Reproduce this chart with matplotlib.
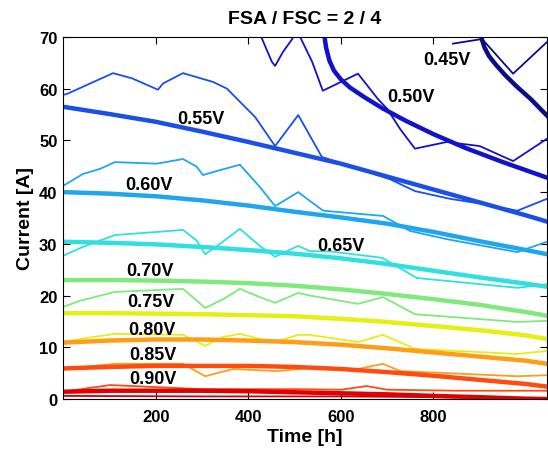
import matplotlib
matplotlib.use("Agg")
import matplotlib.pyplot as plt

plt.rcParams['font.family'] = ['Liberation Sans', 'DejaVu Sans']
plt.rcParams['font.weight'] = 'bold'

# model curves (thick)
t_model = [0, 100, 200, 300, 400, 500, 600, 700, 800, 900, 1000, 1045]
m055 = [56.5, 55.1, 53.6, 51.7, 49.7, 47.6, 45.5, 43.0, 40.5, 38.0, 35.5, 34.3]
m060 = [40.0, 39.7, 39.2, 38.4, 37.4, 36.2, 35.1, 33.9, 32.3, 30.5, 28.8, 28.0]
m065 = [30.4, 30.2, 29.9, 29.4, 28.8, 28.1, 27.2, 26.1, 24.8, 23.5, 22.3, 21.7]
m070 = [23.0, 23.0, 22.9, 22.7, 22.4, 21.9, 21.2, 20.3, 19.3, 18.2, 16.8, 16.1]
m075 = [16.6, 16.6, 16.5, 16.4, 16.2, 16.0, 15.5, 14.9, 14.1, 13.3, 12.3, 11.6]
m080 = [10.9, 11.3, 11.5, 11.5, 11.3, 11.0, 10.5, 9.8, 9.0, 8.2, 7.4, 6.8]
m085 = [5.9, 6.2, 6.4, 6.4, 6.4, 6.2, 5.8, 5.2, 4.5, 3.7, 2.9, 2.4]
m090 = [1.4, 1.6, 1.6, 1.6, 1.5, 1.3, 1.1, 0.9, 0.6, 0.35, 0.05, 0.0]
t_m050 = [562, 564, 568, 575, 585, 600, 620, 650, 690, 740, 800, 870, 950, 1045]
m050 = [73, 70.5, 68, 65.5, 63.5, 61.8, 60.2, 58.4, 56.2, 53.8, 51.2, 48.5, 45.8, 42.8]
t_m045 = [899, 903, 910, 920, 935, 955, 980, 1010, 1045]
m045 = [72, 70, 68, 66.3, 64.6, 62.6, 60.4, 58, 54.8]

# measured curves (thin)
t_d045 = [842, 905, 972, 1045]
d045 = [68.7, 69.6, 62.9, 69.0]
t_d050 = [420, 430, 451, 458, 475, 495, 505, 512, 538, 561, 637, 680, 700, 728,
          760, 829, 900, 972, 1045]
d050 = [72, 69.6, 65.2, 64.4, 67.1, 69.6, 72, 70, 65.2, 59.6, 62.9, 58, 56.1, 52.2,
        48.4, 49.7, 48.9, 46, 50.3]
t_d055 = [0, 9, 108, 149, 205, 216, 259, 324, 354, 415, 458, 508, 559, 706, 760,
          836, 900, 981, 1045]
d055 = [58.8, 59, 63, 62, 59.8, 61, 63, 61.3, 60, 54.5, 48.9, 54.9, 46.8, 42.5, 40.2,
        38.7, 37.8, 36.4, 38.7]
t_d060 = [0, 43, 80, 112, 203, 259, 289, 302, 333, 382, 425, 458, 508, 530, 562,
          691, 749, 829, 981, 1045]
d060 = [41.2, 43.5, 44.5, 45.8, 45.5, 46.4, 44.9, 43.3, 44.1, 45.3, 41, 37.3, 40,
        38.5, 36.4, 35.4, 32.5, 30.9, 28.4, 30.4]
t_d065 = [0, 43, 112, 203, 259, 289, 307, 333, 382, 425, 458, 508, 533, 580, 689,
          764, 981, 1045]
d065 = [27.7, 29.4, 31.7, 32.3, 32.7, 30.6, 28, 29.6, 32.9, 29.6, 27.5, 29.6, 28.6,
        28.5, 27.3, 23.4, 21.5, 22.2]
t_d070 = [0, 37, 112, 259, 307, 346, 382, 425, 458, 508, 533, 637, 691, 760, 981, 1045]
d070 = [17.8, 19, 20.7, 21.3, 17.6, 19.3, 21.3, 19.7, 18.6, 20.5, 20, 18.4, 19.7,
        16.4, 14.9, 15.1]
t_d075 = [0, 37, 112, 259, 307, 346, 382, 425, 458, 508, 533, 637, 691, 760, 981, 1045]
d075 = [11, 11.6, 12.6, 12.4, 10.3, 12, 12.6, 11.6, 11, 12.4, 12.4, 11, 12.4, 9.7,
        8.7, 9.3]
t_d080 = [0, 112, 259, 307, 367, 462, 533, 637, 691, 728, 981, 1045]
d080 = [5.8, 6.8, 6.8, 4.4, 5.8, 5.4, 6.0, 5.8, 6.8, 5.4, 4.4, 4.6]
t_d085 = [0, 102, 300, 500, 600, 656, 700, 850, 1045]
d085 = [1.4, 2.7, 1.9, 1.9, 1.8, 2.5, 1.8, 1.6, 1.6]
t_d090 = [0, 300, 600, 900, 1045]
d090 = [0.6, 0.5, 0.5, 0.3, 0.2]

colors = {
    '0.45V': '#0c0c8a', '0.50V': '#1212cc', '0.55V': '#1a4fe8', '0.60V': '#1fa6ee',
    '0.65V': '#30dfe0', '0.70V': '#80e97c', '0.75V': '#e4f012', '0.80V': '#ff9c18',
    '0.85V': '#ff4a10', '0.90V': '#e00000',
}

fig = plt.figure(figsize=(5.48, 4.56), dpi=100)
ax = fig.add_axes([0.115, 0.1228, 0.883, 0.794])

thin = 1.3
thick = 3.2
ax.plot(t_d045, d045, color=colors['0.45V'], lw=thin)
ax.plot(t_d050, d050, color=colors['0.50V'], lw=thin)
ax.plot(t_d055, d055, color=colors['0.55V'], lw=thin)
ax.plot(t_d060, d060, color=colors['0.60V'], lw=thin)
ax.plot(t_d065, d065, color=colors['0.65V'], lw=thin)
ax.plot(t_d070, d070, color=colors['0.70V'], lw=thin)
ax.plot(t_d075, d075, color=colors['0.75V'], lw=thin)
ax.plot(t_d080, d080, color=colors['0.80V'], lw=thin)
ax.plot(t_d085, d085, color=colors['0.85V'], lw=thin)
ax.plot(t_d090, d090, color='#c80010', lw=thin)

ax.plot(t_m045, m045, color=colors['0.45V'], lw=thick)
ax.plot(t_m050, m050, color=colors['0.50V'], lw=thick)
ax.plot(t_model, m055, color=colors['0.55V'], lw=thick)
ax.plot(t_model, m060, color=colors['0.60V'], lw=thick)
ax.plot(t_model, m065, color=colors['0.65V'], lw=thick)
ax.plot(t_model, m070, color=colors['0.70V'], lw=thick)
ax.plot(t_model, m075, color=colors['0.75V'], lw=thick)
ax.plot(t_model, m080, color=colors['0.80V'], lw=thick)
ax.plot(t_model, m085, color=colors['0.85V'], lw=thick)
ax.plot(t_model, m090, color=colors['0.90V'], lw=thick)

labels = ['0.45V', '0.50V', '0.55V', '0.60V', '0.65V',
          '0.70V', '0.75V', '0.80V', '0.85V', '0.90V']
label_x = [829, 752, 298, 186, 599, 188, 190, 192, 194, 194]
label_y = [65.6, 58.4, 54.3, 41.4, 29.6, 24.8, 18.8, 13.5, 8.7, 3.9]
for s, x, y in zip(labels, label_x, label_y):
    ax.text(x, y, s, fontsize=13, fontweight='bold', ha='center', va='center')

ax.set_xlim(0, 1045)
ax.set_ylim(0, 70)
ax.set_xticks([200, 400, 600, 800])
ax.set_yticks(range(0, 71, 10))
ax.tick_params(direction='in', top=True, right=True, length=5, labelsize=12)
ax.tick_params(axis='x', pad=7)
ax.tick_params(axis='y', pad=4)
for s in ax.spines.values():
    s.set_linewidth(0.8)

ax.set_xlabel('Time [h]', fontsize=14, fontweight='bold', labelpad=3)
ax.set_ylabel('Current [A]', fontsize=14, fontweight='bold', labelpad=4)
ax.set_title('FSA / FSC = 2 / 4', fontsize=14, fontweight='bold', pad=10)

fig.savefig('out.png', dpi=100)
